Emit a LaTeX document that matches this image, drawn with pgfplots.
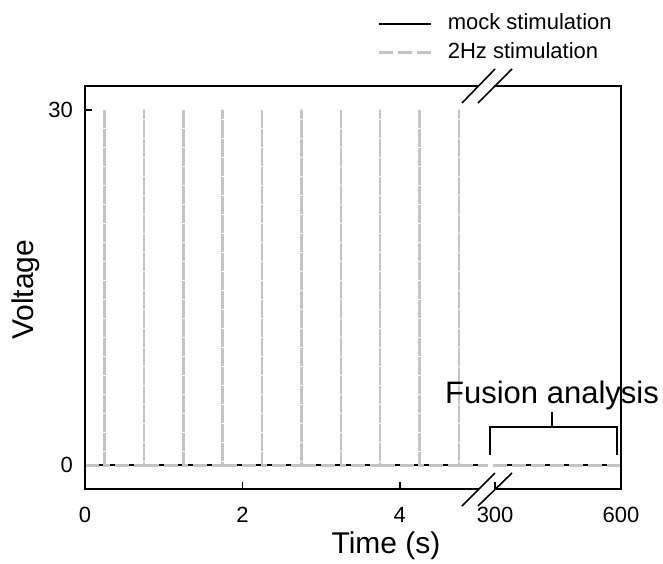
\documentclass[border=0pt]{standalone}
\usepackage{fontspec}
\setmainfont{Liberation Sans}
\usepackage{pgfplots}
\pgfplotsset{compat=1.18}
\definecolor{stimgray}{RGB}{196,196,196}

\begin{document}
\begin{tikzpicture}
% picture area in pixel-like units (1px = 1pt), y grows downwards as negative
\path[use as bounding box] (0pt,0pt) rectangle (663pt,-563pt);

\pgfplotsset{
  brokenax/.style={
    scale only axis,
    height=403pt,
    ymin=-2, ymax=32,
    axis line style={draw=none},
    tick align=inside,
    major tick length=7pt,
    tick style={black, line width=1.6pt},
    xtick pos=left, ytick pos=left,
    tick label style={font=\fontsize{22}{26}\selectfont},
    xticklabel style={anchor=base, yshift=-33pt},
    yticklabel style={anchor=east, inner sep=0pt, xshift=-12pt},
    /pgf/number format/assume math mode=true,
  },
}

\begin{axis}[
  brokenax,
  name=L,
  at={(85pt,-489pt)}, anchor=south west,
  width=403pt,
  xmin=0, xmax=5.12,
  xtick={0,2,4}, ytick={0,30},
  xlabel={Time (s)},
  xlabel style={at={(axis description cs:0.747,-0.159)}, anchor=base,
                font=\fontsize{30}{34}\selectfont},
  ylabel={Voltage},
  ylabel style={at={(axis description cs:-0.129,0.494)}, anchor=base,
                font=\fontsize{30}{34}\selectfont},
  legend style={draw=none, fill=none, inner sep=0pt,
                at={(axis description cs:0.7246,1.181)}, anchor=north west,
                font=\fontsize{22}{26}\selectfont,
                nodes={inner sep=0pt, text height=16pt, text depth=5pt},
                row sep=8pt, column sep=16pt},
  legend cell align=left,
  legend image code/.code={\draw[#1] (0pt,0pt) -- (52pt,0pt);},
]
\addplot[black, line width=1.8pt] coordinates {(0,0) (5.12,0)};
\addplot[stimgray, line width=2.6pt, dash pattern=on 14pt off 5pt] coordinates {
  (0,0) (0.25,0) (0.25,30) (0.25,0)
  (0.75,0) (0.75,30) (0.75,0)
  (1.25,0) (1.25,30) (1.25,0)
  (1.75,0) (1.75,30) (1.75,0)
  (2.25,0) (2.25,30) (2.25,0)
  (2.75,0) (2.75,30) (2.75,0)
  (3.25,0) (3.25,30) (3.25,0)
  (3.75,0) (3.75,30) (3.75,0)
  (4.25,0) (4.25,30) (4.25,0)
  (4.75,0) (4.75,30) (4.75,0)
  (5.12,0)};
\legend{mock stimulation, 2Hz stimulation}
\end{axis}

\begin{axis}[
  brokenax,
  name=R,
  at={(493pt,-489pt)}, anchor=south west,
  width=128pt,
  xmin=295, xmax=600,
  xtick={300,600}, ytick=\empty,
]
\addplot[black, line width=1.8pt] coordinates {(295,0) (600,0)};
\addplot[stimgray, line width=2.6pt, dash pattern=on 14pt off 5pt]
  coordinates {(295,0) (600,0)};
\end{axis}

% frame with break marks
\draw[line width=1.8pt, line join=miter]
  (478pt,-86pt) -- (85pt,-86pt) -- (85pt,-489pt) -- (479pt,-489pt);
\draw[line width=1.8pt, line join=miter]
  (494pt,-86pt) -- (621pt,-86pt) -- (621pt,-489pt) -- (495pt,-489pt);
\draw[line width=1.6pt] (462pt,-103pt) -- (495pt,-69pt);
\draw[line width=1.6pt] (478pt,-103pt) -- (512pt,-69pt);
\draw[line width=1.6pt] (462pt,-506pt) -- (495pt,-473pt);
\draw[line width=1.6pt] (478pt,-506pt) -- (512pt,-473pt);

% Fusion analysis bracket
\draw[line width=1.6pt]
  (490pt,-455pt) -- (490pt,-427pt) -- (617pt,-427pt) -- (617pt,-455pt);
\draw[line width=1.6pt] (552pt,-427pt) -- (552pt,-412pt);
\node[anchor=base, font=\fontsize{31}{36}\selectfont, inner sep=0pt]
  at (552pt,-403pt) {Fusion analysis};
\end{tikzpicture}
\end{document}
